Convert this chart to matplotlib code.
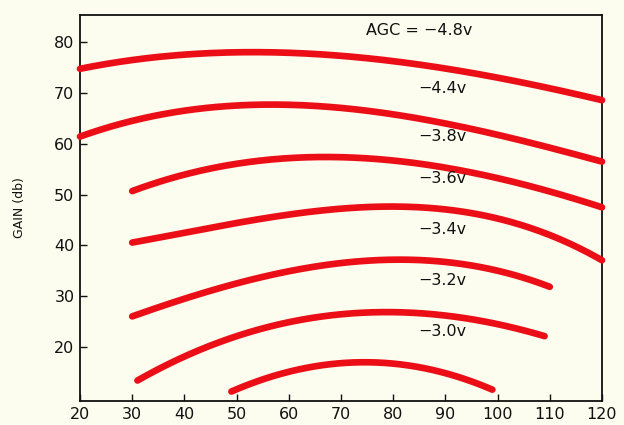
import numpy as np
import matplotlib.pyplot as plt

# Gain vs. frequency at several AGC bias voltages
agc_labels = ["AGC = \u22124.8v", "\u22124.4v", "\u22123.8v", "\u22123.6v", "\u22123.4v", "\u22123.2v", "\u22123.0v"]

x_48 = [20, 30, 40, 50, 60, 70, 80, 90, 100, 110, 120]
g_48 = [74.6, 76.7, 77.5, 77.8, 77.8, 77.3, 76.3, 74.9, 72.9, 70.8, 68.6]

x_44 = [20, 30, 40, 50, 60, 70, 80, 90, 100, 110, 120]
g_44 = [61.2, 64.9, 66.5, 67.2, 67.5, 67.0, 66.1, 64.1, 61.6, 59.0, 56.6]

x_38 = [30, 40, 50, 60, 70, 80, 90, 100, 110, 120]
g_38 = [50.5, 54.3, 56.0, 56.9, 57.3, 56.8, 55.3, 53.3, 50.5, 47.5]

x_36 = [30, 40, 50, 60, 70, 80, 90, 100, 110, 120]
g_36 = [40.3, 42.9, 44.5, 45.9, 47.0, 47.5, 47.2, 45.5, 42.0, 37.0]

x_34 = [30, 40, 50, 60, 70, 80, 90, 100, 110]
g_34 = [25.9, 29.8, 32.5, 34.7, 36.5, 37.3, 36.7, 35.1, 31.8]

x_32 = [31, 40, 50, 60, 70, 80, 90, 100, 109]
g_32 = [13.1, 18.8, 22.0, 24.7, 26.3, 26.9, 26.3, 24.7, 22.0]

x_30 = [49, 60, 70, 80, 90, 99]
g_30 = [11.2, 15.4, 16.5, 16.9, 14.9, 11.6]

series = [(x_48, g_48), (x_44, g_44), (x_38, g_38), (x_36, g_36),
          (x_34, g_34), (x_32, g_32), (x_30, g_30)]
label_pos = [(74.8, 82.2), (84.8, 70.8), (84.8, 61.4), (84.8, 53.1),
             (84.8, 43.2), (84.8, 33.0), (84.8, 23.1)]

x_ticks = [20, 30, 40, 50, 60, 70, 80, 90, 100, 110, 120]
y_ticks = [20, 30, 40, 50, 60, 70, 80]

bg = "#fcfcef"
red = "#ec0e17"

fig = plt.figure(figsize=(6.24, 4.25), dpi=100, facecolor=bg)
ax = fig.add_axes([80 / 624, 24 / 425, 522 / 624, 386 / 425], facecolor=bg)

for xs, gs in series:
    xs = np.asarray(xs, float)
    gs = np.asarray(gs, float)
    coeffs = np.polyfit(xs, gs, min(3, len(xs) - 1))
    xf = np.linspace(xs[0], xs[-1], 200)
    ax.plot(xf, np.polyval(coeffs, xf), color=red, lw=4.8,
            solid_capstyle="round", clip_on=False, zorder=3)

for text, (tx, ty) in zip(agc_labels, label_pos):
    ax.text(tx, ty, text, fontsize=11.5, color="#111111", ha="left", va="center",
            fontfamily="DejaVu Sans")

ax.set_xlim(20, 120)
ax.set_ylim(9.4, 85.3)
ax.set_xticks(x_ticks)
ax.set_yticks(y_ticks)
ax.tick_params(direction="in", length=5, width=1, labelsize=11.5, colors="#111111", pad=4)
for s in ax.spines.values():
    s.set_linewidth(1.3)
    s.set_color("#111111")

ax.set_ylabel("GAIN (db)", fontsize=9, color="#111111", labelpad=20)

fig.savefig("out.png", dpi=100, facecolor=bg)
